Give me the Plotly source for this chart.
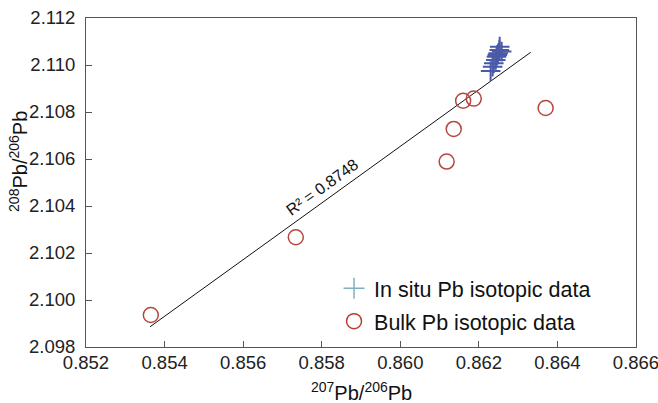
import plotly.graph_objects as go

# Bulk Pb isotopic data (207Pb/206Pb, 208Pb/206Pb)
bulk_x = [0.85365, 0.85734, 0.86118, 0.86136, 0.86160, 0.86187, 0.86370]
bulk_y = [2.09936, 2.10267, 2.10589, 2.10728, 2.10848, 2.10857, 2.10817]

# In situ Pb isotopic data
insitu_x = [0.86230, 0.86235, 0.86238, 0.86243, 0.86245, 0.86247, 0.86249, 0.86252, 0.86253, 0.86258]
insitu_y = [2.10974, 2.10993, 2.11007, 2.11021, 2.11035, 2.11043, 2.11050, 2.11064, 2.11078, 2.11057]

# Trend line as drawn
trend_x = [0.85363, 0.86332]
trend_y = [2.09886, 2.11054]
r2_label = "R² = 0.8748"

x_ticks = [0.852, 0.854, 0.856, 0.858, 0.860, 0.862, 0.864, 0.866]
y_ticks = [2.098, 2.100, 2.102, 2.104, 2.106, 2.108, 2.110, 2.112]

FONT = "Liberation Sans, Arial, sans-serif"
AX = "#555555"

fig = go.Figure()
fig.add_trace(go.Scatter(x=trend_x, y=trend_y, mode="lines",
                         line=dict(color="#111111", width=1), showlegend=False))
fig.add_trace(go.Scatter(x=insitu_x, y=insitu_y, mode="markers", showlegend=False,
                         marker=dict(symbol="cross-thin", size=14,
                                     line=dict(color="#4a5aa8", width=2))))
fig.add_trace(go.Scatter(x=bulk_x, y=bulk_y, mode="markers", showlegend=False,
                         marker=dict(symbol="circle-open", size=15, color="#b5473e",
                                     line=dict(color="#b5473e", width=1.5))))
# legend entries
fig.add_trace(go.Scatter(x=[None], y=[None], mode="markers", name="In situ Pb isotopic data",
                         legendgroup="a",
                         marker=dict(symbol="cross-thin", size=15,
                                     line=dict(color="#7fb0bf", width=1.5))))
fig.add_trace(go.Scatter(x=[None], y=[None], mode="markers", name="Bulk Pb isotopic data",
                         legendgroup="b",
                         marker=dict(symbol="circle-open", size=15, color="#c0392b",
                                     line=dict(color="#c0392b", width=1.5))))

axis_common = dict(showgrid=False, zeroline=False, showline=True, linecolor=AX, linewidth=1,
                   mirror=True, ticks="inside", ticklen=6, tickcolor=AX, tickwidth=1,
                   automargin=False, ticklabeloverflow="allow",
                   tickfont=dict(family=FONT, size=18.5, color="#222222"))
fig.update_xaxes(range=[0.852, 0.866], tickvals=x_ticks, ticklabelstandoff=-1,
                 ticktext=[f"{v:.3f}" for v in x_ticks], **axis_common)
fig.update_yaxes(range=[2.098, 2.112], tickvals=y_ticks, ticklabelstandoff=6,
                 ticktext=[f"{v:.3f}" for v in y_ticks], **axis_common)

fig.add_annotation(x=0.8580, y=2.1048, xref="x", yref="y", text=r2_label, showarrow=False,
                   textangle=-35.8, font=dict(family=FONT, size=16, color="#111111"))
fig.add_annotation(x=0.5, y=-0.134, xref="paper", yref="paper", yanchor="middle",
                   text="<sup>207</sup>Pb/<sup>206</sup>Pb", showarrow=False,
                   font=dict(family=FONT, size=20, color="#111111"))
fig.add_annotation(x=-0.124, y=0.565, xref="paper", yref="paper", xanchor="center",
                   yanchor="middle",
                   text="<sup>208</sup>Pb/<sup>206</sup>Pb", showarrow=False, textangle=-90,
                   font=dict(family=FONT, size=20, color="#111111"))

fig.update_layout(
    width=658, height=403,
    margin=dict(l=86, r=22, t=18, b=56, autoexpand=False),
    plot_bgcolor="white", paper_bgcolor="white",
    legend=dict(x=0.451, y=0.241, xanchor="left", yanchor="top", bgcolor="rgba(0,0,0,0)",
                traceorder="grouped", tracegroupgap=2,
                font=dict(family=FONT, size=21.5, color="#111111")),
)

fig.write_html("out.html", config={"displayModeBar": False},
               post_script="document.body.style.margin='0';document.body.style.overflow='hidden';")
